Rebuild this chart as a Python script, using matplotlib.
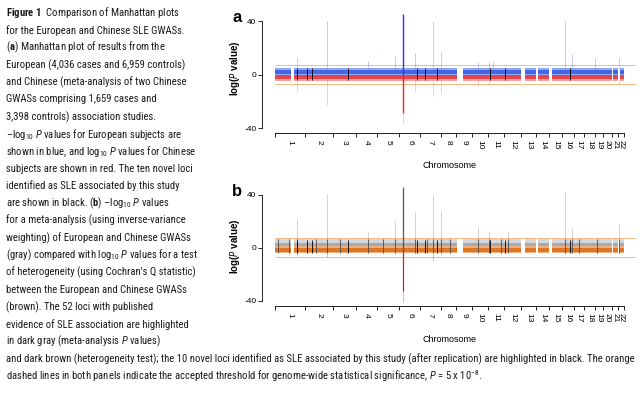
import matplotlib
matplotlib.use('Agg')
import matplotlib.pyplot as plt
from matplotlib import font_manager
import numpy as np

W, H = 642, 400

# chromosome widths (relative units)
chrom_labels = ['1', '2', '3', '4', '5', '6', '7', '8', '9', '10', '11',
                '12', '13', '14', '15', '16', '17', '18', '19', '20', '21', '22']
chrom_span = [30.0, 28.3, 22.7, 20.7, 22.6, 20.7, 20.7, 15.3, 15.7, 16.0, 16.6,
              16.4, 15.3, 13.3, 12.4, 12.3, 10.3, 10.7, 8.3, 8.4, 6.6, 5.7]

# regions without markers (chromosome, start/end as fraction of chromosome)
gap_chrom = [1, 9, 13, 14, 15, 21, 22]
gap_start = [0.52, 0.05, 0.0, 0.0, 0.0, 0.0, 0.0]
gap_end = [0.63, 0.42, 0.28, 0.15, 0.22, 0.25, 0.30]

# panel a: European (-log10 P, up) and Chinese (log10 P, down) peaks
eur_chrom = [1, 2, 4, 5, 6, 6, 7, 8, 10, 11, 11, 16, 16, 19, 22]
eur_frac = [0.73, 0.77, 0.56, 0.81, 0.16, 0.76, 0.64, 0.05, 0.40, 0.10, 0.32, 0.27, 0.81, 0.05, 0.20]
eur_logp = [13, 40, 10, 14, 45, 16, 40, 17, 9, 10, 10, 40, 15, 12, 13]

chn_chrom = [1, 2, 6, 6, 7, 8, 10, 11, 22]
chn_frac = [0.73, 0.77, 0.16, 0.76, 0.64, 0.05, 0.40, 0.10, 0.20]
chn_logp = [-12, -23, -36, -12, -16, -14, -8, -7, -8]

novel_chrom = [1, 2, 2, 3, 6, 7, 7, 11, 12, 16]
novel_frac = [0.73, 0.07, 0.24, 0.65, 0.84, 0.24, 0.81, 0.14, 0.04, 0.67]

# panel b: meta-analysis (-log10 P, up) and heterogeneity (log10 P, down)
meta_chrom = [1, 2, 3, 4, 5, 6, 6, 7, 8, 10, 11, 12, 16, 16, 22]
meta_frac = [0.73, 0.77, 0.50, 0.56, 0.81, 0.16, 0.76, 0.64, 0.05, 0.40, 0.10, 0.20, 0.27, 0.81, 0.20]
meta_logp = [22, 41, 7, 12, 20, 46, 27, 40, 28, 16, 12, 13, 42, 15, 18]

het_chrom = [1, 2, 6, 7]
het_frac = [0.73, 0.77, 0.16, 0.64]
het_logp = [-6, -7, -42, -10]

known_chrom = [1, 1, 1, 2, 2, 3, 4, 5, 5, 6, 6, 7, 7, 8, 8, 10, 11, 11, 12, 16, 16, 17, 19, 22]
known_frac = [0.10, 0.45, 0.73, 0.40, 0.77, 0.30, 0.56, 0.30, 0.81, 0.16, 0.76, 0.35, 0.64, 0.05, 0.60, 0.40, 0.10, 0.80, 0.20, 0.27, 0.81, 0.50, 0.30, 0.20]

threshold = 7.3  # -log10(5e-8)

caption_lines = [
    r'$\mathbf{Figure\ 1}$  Comparison of Manhattan plots',
    r'for the European and Chinese SLE GWASs.',
    r'($\mathbf{a}$) Manhattan plot of results from the',
    r'European (4,036 cases and 6,959 controls)',
    r'and Chinese (meta-analysis of two Chinese',
    r'GWASs comprising 1,659 cases and',
    r'3,398 controls) association studies.',
    r'–$\mathrm{log}_{10}$ $\mathit{P}$ values for European subjects are',
    r'shown in blue, and $\mathrm{log}_{10}$ $\mathit{P}$ values for Chinese',
    r'subjects are shown in red. The ten novel loci',
    r'identified as SLE associated by this study',
    r'are shown in black. ($\mathbf{b}$) –$\mathrm{log}_{10}$ $\mathit{P}$ values',
    r'for a meta-analysis (using inverse-variance',
    r'weighting) of European and Chinese GWASs',
    r'(gray) compared with $\mathrm{log}_{10}$ $\mathit{P}$ values for a test',
    r"of heterogeneity (using Cochran's Q statistic)",
    r'between the European and Chinese GWASs',
    r'(brown). The 52 loci with published',
    r'evidence of SLE association are highlighted',
    r'in dark gray (meta-analysis $\mathit{P}$ values)',
    r'and dark brown (heterogeneity test); the 10 novel loci identified as SLE associated by this study '
    r'(after replication) are highlighted in black. The orange',
    r'dashed lines in both panels indicate the accepted threshold for genome-wide statistical '
    r'significance, $\mathit{P}$ = 5 x 10$^{-8}$.',
]

names = {f.name for f in font_manager.fontManager.ttflist}
cap_font = 'DejaVu Sans'
for cand in ['Roboto Condensed', 'Archivo Narrow', 'Barlow Semi Condensed',
             'Asap Condensed', 'Liberation Sans Narrow']:
    if cand in names:
        cap_font = cand
        break
plot_font = 'Liberation Sans' if 'Liberation Sans' in names else 'DejaVu Sans'

plt.rcParams['mathtext.fontset'] = 'custom'
plt.rcParams['mathtext.rm'] = cap_font
plt.rcParams['mathtext.it'] = cap_font + ':italic'
plt.rcParams['mathtext.bf'] = cap_font + ':bold'

starts = np.concatenate([[0], np.cumsum(chrom_span)[:-1]])
total = float(np.sum(chrom_span))
mids = starts + np.array(chrom_span) / 2


def xpos(chroms, fracs):
    c = np.array(chroms) - 1
    return starts[c] + np.array(fracs) * np.array(chrom_span)[c]


def segments():
    segs = []
    for i, span in enumerate(chrom_span):
        cuts = [(s, e) for c, s, e in zip(gap_chrom, gap_start, gap_end) if c == i + 1]
        pos = 0.0
        for s, e in sorted(cuts):
            if s > pos:
                segs.append((starts[i] + pos * span, (s - pos) * span))
            pos = e
        if pos < 1:
            segs.append((starts[i] + pos * span, (1 - pos) * span))
    return segs


def px_axes(fig, left, top, right, bottom):
    return fig.add_axes([left / W, 1 - bottom / H, (right - left) / W, (bottom - top) / H])


def style_axes(ax, y_label_y, chrom_y, offset):
    ax.set_xlim(-13, 361)
    ax.set_ylim(-42, 47)
    ax.patch.set_visible(False)
    for s in ['top', 'right']:
        ax.spines[s].set_visible(False)
    ax.spines['left'].set_bounds(-40, 40)
    ax.spines['bottom'].set_bounds(0, total)
    ax.spines['bottom'].set_position(('outward', offset))
    for s in ['left', 'bottom']:
        ax.spines[s].set_linewidth(0.7)
        ax.spines[s].set_color('#222222')
    ax.set_yticks([-40, 0, 40])
    ax.set_yticklabels(['-40', '0', '40'])
    ax.tick_params(axis='y', length=3, width=0.7, pad=1, labelsize=6, color='#222222')
    ax.set_xticks(np.append(starts, total))
    ax.set_xticklabels([])
    ax.set_xticks(mids, minor=True)
    ax.set_xticklabels(chrom_labels, minor=True, rotation=270, va='top', ha='center')
    ax.tick_params(axis='x', which='major', length=3, width=0.7, color='#222222')
    ax.tick_params(axis='x', which='minor', length=0, pad=5, labelsize=6)
    for t in ax.get_yticklabels() + ax.get_xticklabels(minor=True):
        t.set_fontfamily(plot_font)
    ax.hlines([threshold, -threshold], 0, 361, colors='#f3a765', lw=0.7, alpha=0.8, zorder=1)
    fig.text(235 / W, 1 - y_label_y / H, r'log($\mathit{P}$ value)', rotation=90,
             ha='center', va='center', fontsize=7, fontweight='bold', family=plot_font)
    fig.text(449.5 / W, 1 - chrom_y / H, 'Chromosome', ha='center', va='center',
             fontsize=6.5, family=plot_font)


fig = plt.figure(figsize=(W / 100, H / 100), dpi=100)
segs = segments()

# ---- panel a
ax1 = px_axes(fig, 262, 11.64, 636, 130.7)
ax1.broken_barh(segs, (0, 4.6), facecolors='#93a7f0', zorder=2)
ax1.broken_barh(segs, (0.4, 2.8), facecolors='#4465e4', zorder=2)
ax1.broken_barh(segs, (-4.6, 4.6), facecolors='#f3a3a1', zorder=2)
ax1.broken_barh(segs, (-3.2, 2.8), facecolors='#e64449', zorder=2)
ex = xpos(eur_chrom, eur_frac)
ax1.vlines(ex, 4, eur_logp, colors='#5a6fd8', lw=0.6, alpha=0.4, zorder=3)
ax1.vlines(ex[4], 0, eur_logp[4], colors='#2233ee', lw=1.0, zorder=4)
cx = xpos(chn_chrom, chn_frac)
ax1.vlines(cx, -4, chn_logp, colors='#d86a78', lw=0.6, alpha=0.4, zorder=3)
ax1.vlines(cx[2], -29, 0, colors='#ee2222', lw=1.0, zorder=4)
nx = xpos(novel_chrom, novel_frac)
ax1.vlines(nx, -4, 5, colors='black', lw=0.6, zorder=5)
style_axes(ax1, 68, 165, 1.7)
fig.text(237 / W, 1 - 18 / H, 'a', ha='center', va='center', fontsize=12,
         fontweight='bold', family=plot_font)

# ---- panel b
ax2 = px_axes(fig, 262, 185.75, 636, 303.3)
ax2.broken_barh(segs, (0, 7), facecolors='#d3d8de', zorder=2)
ax2.broken_barh(segs, (0, 4), facecolors='#a3abb5', zorder=2)
ax2.broken_barh(segs, (-4.2, 5.6), facecolors='#efae7a', zorder=2)
ax2.broken_barh(segs, (-3.2, 3.4), facecolors='#dc7629', zorder=2)
kx = xpos(known_chrom, known_frac)
ax2.vlines(kx, -4, 7, colors='#4a4a4a', lw=0.6, zorder=4)
mx = xpos(meta_chrom, meta_frac)
ax2.vlines(mx, 6, meta_logp, colors='#8a8f96', lw=0.6, alpha=0.45, zorder=3)
ax2.vlines(mx[5], 0, meta_logp[5], colors='#555555', lw=0.9, zorder=4)
hx = xpos(het_chrom, het_frac)
ax2.vlines(hx, -4, het_logp, colors='#c46030', lw=0.6, alpha=0.5, zorder=3)
ax2.vlines(hx[2], -33, 0, colors='#c42a1a', lw=0.9, zorder=4)
ax2.vlines(nx, -4, 6, colors='black', lw=0.6, zorder=5)
style_axes(ax2, 246, 339, 2.0)
fig.text(237 / W, 1 - 192 / H, 'b', ha='center', va='center', fontsize=12,
         fontweight='bold', family=plot_font)

# ---- caption, sized so the long bottom line spans the page width
renderer = fig.canvas.get_renderer()
probe = fig.text(0, 0, caption_lines[20], fontsize=10, family=cap_font)
width = probe.get_window_extent(renderer).width
probe.remove()
cap_size = min(10 * 624 / width, 8.5)

for i, line in enumerate(caption_lines):
    fig.text(6 / W, 1 - (13 + i * 17.3) / H, line, ha='left', va='center',
             fontsize=cap_size, family=cap_font, color='#1a1a1a')

fig.savefig('out.png', dpi=100)
